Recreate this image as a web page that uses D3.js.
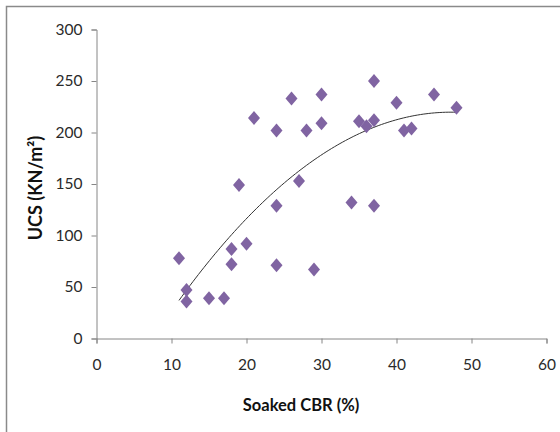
<!DOCTYPE html>
<html>
<head>
<meta charset="utf-8">
<script src="https://cdn.jsdelivr.net/npm/d3@7"></script>
<style>
  html, body { margin: 0; padding: 0; background: #fff; }
  svg { display: block; }
  .tick text { font-family: Lato, "Open Sans", sans-serif; font-size: 15.5px; fill: #2a2a2a; }
  .title { font-family: Lato, "Open Sans", sans-serif; font-weight: bold; fill: #111; }
</style>
</head>
<body>
<svg id="chart" width="560" height="432"></svg>
<script>
// Soaked CBR (%) against unconfined compressive strength (kN/m²)
const cbr = [11, 12, 12, 15, 17, 18, 18, 19, 20, 21, 24, 24, 24, 26, 27, 28, 29, 30, 30, 34, 35, 36, 37, 37, 37, 40, 41, 42, 45, 48];
const ucs = [78, 47, 36, 39, 39, 87, 72, 149, 92, 214, 202, 129, 71, 233, 153, 202, 67, 237, 209, 132, 211, 206, 250, 212, 129, 229, 202, 204, 237, 224];
const xTicks = [0, 10, 20, 30, 40, 50, 60];
const yTicks = [0, 50, 100, 150, 200, 250, 300];

const svg = d3.select("#chart");

// outer chart frame (runs off the right and bottom edges)
svg.append("rect")
  .attr("x", 6.5).attr("y", 6.5)
  .attr("width", 600).attr("height", 500)
  .attr("fill", "none").attr("stroke", "#8a8a8a").attr("stroke-width", 1.5);

const x = d3.scaleLinear().domain([0, 60]).range([96.5, 546.5]);
const y = d3.scaleLinear().domain([0, 300]).range([338.5, 29.5]);

const yAxis = svg.append("g")
  .attr("transform", `translate(${x(0)},0)`)
  .call(d3.axisLeft(y).tickValues(yTicks).tickSize(5).tickPadding(9));
const xAxis = svg.append("g")
  .attr("transform", `translate(0,${y(0)})`)
  .call(d3.axisBottom(x).tickValues(xTicks).tickSize(5).tickPadding(15));
[yAxis, xAxis].forEach(g => {
  g.select(".domain").attr("stroke", "#868686");
  g.selectAll(".tick line").attr("stroke", "#868686");
});

// second-order polynomial trend line, least squares over the points
function polyfit2(xs, ys) {
  const n = xs.length;
  let s = [0, 0, 0, 0, 0], t = [0, 0, 0];
  for (let i = 0; i < n; i++) {
    let p = 1;
    for (let k = 0; k < 5; k++) { s[k] += p; if (k < 3) t[k] += p * ys[i]; p *= xs[i]; }
  }
  const A = [[s[0], s[1], s[2], t[0]], [s[1], s[2], s[3], t[1]], [s[2], s[3], s[4], t[2]]];
  for (let c = 0; c < 3; c++) {
    for (let r = c + 1; r < 3; r++) {
      const f = A[r][c] / A[c][c];
      for (let k = c; k < 4; k++) A[r][k] -= f * A[c][k];
    }
  }
  const b = [0, 0, 0];
  for (let r = 2; r >= 0; r--) {
    let v = A[r][3];
    for (let k = r + 1; k < 3; k++) v -= A[r][k] * b[k];
    b[r] = v / A[r][r];
  }
  return b;
}
const coef = polyfit2(cbr, ucs);
const xMin = d3.min(cbr), xMax = d3.max(cbr);
const trend = d3.range(0, 101).map(i => {
  const xv = xMin + (xMax - xMin) * i / 100;
  return [xv, coef[0] + coef[1] * xv + coef[2] * xv * xv];
});
svg.append("path")
  .datum(trend)
  .attr("fill", "none").attr("stroke", "#333").attr("stroke-width", 1)
  .attr("d", d3.line().x(d => x(d[0])).y(d => y(d[1])));

// diamond markers
svg.append("g").selectAll("path")
  .data(cbr.map((c, i) => [c, ucs[i]]))
  .join("path")
  .attr("transform", d => `translate(${x(d[0])},${y(d[1])})`)
  .attr("d", "M0,-7L6,0L0,7L-6,0Z")
  .attr("fill", "#8064a2");

// axis titles
svg.append("text").attr("class", "title")
  .attr("x", 301).attr("y", 411).attr("text-anchor", "middle")
  .style("font-size", "16.5px")
  .text("Soaked CBR (%)");
svg.append("text").attr("class", "title")
  .attr("transform", "translate(42,188) rotate(-90)").attr("text-anchor", "middle")
  .style("font-size", "18px")
  .text("UCS (KN/m²)");
</script>
</body>
</html>
